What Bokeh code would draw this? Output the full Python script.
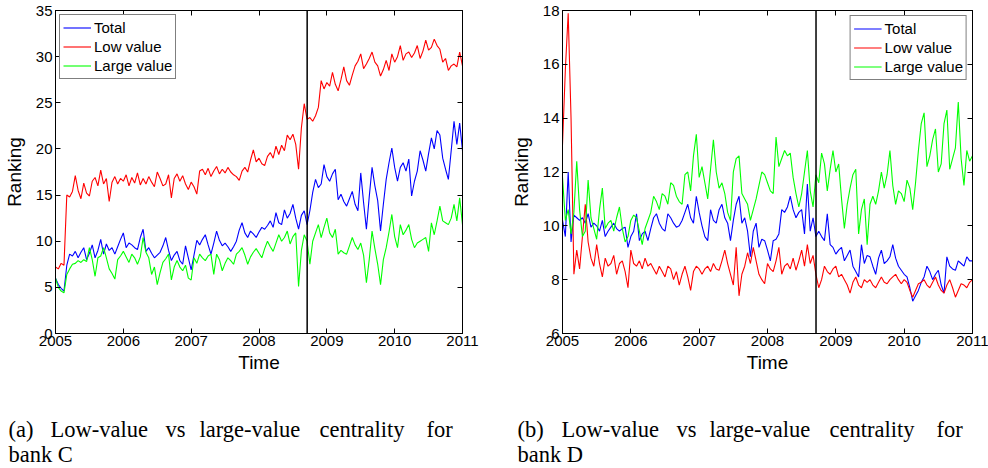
import numpy as np
from bokeh.plotting import figure
from bokeh.models import (Range1d, LinearAxis, FixedTicker, PrintfTickFormatter, Span,
                          Legend, LegendItem, ColumnDataSource)
from bokeh.layouts import column, row
from bokeh.embed import file_html
from bokeh.resources import INLINE
from bokeh.core.properties import value

# ---------------- data ----------------
# semi-monthly sample dates, Jan 2005 .. Jan 2011
dates = np.linspace(2005.0, 2011.0, 145)
year_ticks = [2005, 2006, 2007, 2008, 2009, 2010, 2011]
lehman_date = 2008.71
series_names = ["Total", "Low value", "Large value"]
series_colors = ["#0000ff", "#ff0000", "#00ff00"]

# bank C
c_yticks = [0, 5, 10, 15, 20, 25, 30, 35]
c_total = [6.0, 5.3, 4.9, 4.6, 7.4, 8.6, 8.4, 8.9, 8.2, 8.8, 9.3, 8.0,
           8.7, 9.6, 8.2, 9.0, 10.2, 8.6, 9.7, 9.0, 9.3, 8.6, 9.4, 10.2,
           10.9, 9.3, 9.8, 9.6, 9.3, 9.1, 10.4, 11.3, 8.9, 9.3, 8.7, 8.2,
           8.5, 8.8, 9.5, 10.4, 9.0, 7.9, 8.5, 8.9, 7.9, 7.5, 9.5, 8.2,
           6.9, 8.5, 10.1, 9.6, 10.2, 10.7, 9.6, 8.6, 9.8, 11.1, 10.1, 9.5,
           9.8, 9.4, 8.9, 9.4, 10.0, 11.2, 12.0, 10.9, 10.4, 11.1, 10.8, 10.4,
           11.0, 11.5, 11.3, 11.7, 12.2, 11.5, 13.1, 12.0, 11.8, 13.4, 12.5, 13.0,
           14.0, 12.5, 11.3, 12.8, 13.3, 11.8, 13.3, 15.3, 16.7, 15.8, 16.2, 18.3,
           17.0, 16.5, 17.3, 17.8, 14.5, 15.1, 14.3, 13.8, 14.6, 15.4, 14.0, 13.3,
           17.4, 14.2, 11.3, 14.8, 18.0, 16.0, 14.4, 11.1, 14.0, 16.7, 18.5, 20.1,
           18.0, 16.5, 18.0, 18.5, 17.6, 18.9, 14.9, 16.5, 17.6, 19.8, 18.8, 17.6,
           19.5, 21.2, 20.0, 22.0, 21.5, 19.0, 17.8, 16.7, 19.8, 23.0, 20.5, 22.8,
           19.8]
c_low = [7.2, 7.0, 7.6, 7.4, 15.0, 14.8, 15.4, 17.1, 15.5, 14.6, 16.3, 15.2,
         14.9, 16.5, 16.9, 16.0, 17.7, 16.2, 16.8, 14.3, 16.4, 17.0, 16.2, 16.8,
         16.5, 17.2, 16.0, 16.9, 16.3, 17.4, 16.1, 16.8, 16.2, 17.0, 16.4, 15.9,
         17.5, 16.8, 16.0, 16.2, 17.2, 14.7, 16.8, 17.3, 16.5, 17.1, 16.2, 15.6,
         16.4, 15.9, 15.1, 17.6, 17.8, 17.2, 17.9, 17.0, 17.6, 18.1, 17.3, 17.8,
         17.4, 18.0, 17.5, 17.2, 17.0, 16.6, 17.6, 18.0, 17.5, 18.8, 19.9, 18.6,
         19.0, 18.4, 18.2, 19.2, 19.6, 19.0, 20.3, 19.4, 20.4, 19.8, 21.5, 21.0,
         21.6, 20.5, 17.8, 22.3, 24.9, 23.2, 23.4, 23.0, 23.6, 24.5, 27.4, 26.5,
         27.2, 26.8, 28.3, 27.0, 26.3, 27.5, 28.9, 27.4, 26.9, 28.0, 29.0, 29.5,
         30.3, 28.7, 29.2, 29.8, 30.5, 29.4, 29.0, 27.9, 28.6, 29.6, 28.5, 30.3,
         29.4, 30.0, 31.2, 29.6, 30.3, 30.5, 29.9, 30.4, 31.2, 29.8, 30.6, 31.8,
         30.7, 31.0, 31.9, 31.2, 30.8, 29.4, 29.8, 28.5, 29.0, 29.2, 28.9, 30.5,
         29.0]
c_large = [6.0, 5.0, 4.6, 4.4, 6.4, 7.0, 7.5, 7.6, 7.9, 7.7, 8.0, 7.8,
           9.3, 8.0, 6.2, 8.2, 8.4, 9.3, 8.2, 7.0, 6.5, 5.9, 8.0, 8.4,
           8.9, 8.3, 7.7, 8.6, 8.2, 7.5, 8.3, 10.4, 8.8, 8.2, 6.4, 7.2,
           5.3, 6.6, 7.7, 8.1, 8.6, 5.8, 7.2, 7.9, 7.2, 6.8, 7.4, 6.0,
           5.8, 8.2, 7.6, 8.6, 8.2, 7.9, 8.4, 8.6, 6.4, 8.6, 8.0, 6.8,
           7.6, 8.2, 7.9, 7.5, 8.6, 8.9, 9.3, 8.5, 7.5, 8.3, 8.8, 9.2,
           8.7, 8.2, 9.2, 10.0, 9.4, 8.9, 9.8, 10.7, 10.0, 10.4, 11.1, 9.7,
           10.5, 10.9, 5.1, 9.0, 10.7, 10.0, 7.5, 10.0, 10.9, 11.8, 10.4, 11.5,
           12.5, 10.9, 10.4, 11.3, 8.6, 9.0, 8.75, 8.6, 9.5, 10.4, 9.6, 9.1,
           9.8, 8.5, 5.5, 8.0, 11.1, 9.2, 7.5, 5.3, 8.0, 9.3, 11.0, 12.9,
           10.5, 9.3, 11.8, 10.7, 11.2, 11.8, 10.2, 9.3, 9.8, 10.0, 10.2, 10.4,
           8.9, 12.0, 10.7, 12.2, 13.8, 12.2, 12.0, 11.8, 12.5, 14.0, 12.2, 14.7,
           11.8]

# bank D
d_yticks = [6, 8, 10, 12, 14, 16, 18]
d_total = [10.2, 9.6, 12.0, 9.4, 10.4, 10.3, 10.2, 10.3, 10.1, 10.45, 9.95, 10.1,
           10.0, 9.8, 10.2, 9.6, 9.8, 9.95, 10.1, 9.9, 9.8, 9.9, 9.95, 9.2,
           9.6, 9.8, 10.45, 9.45, 9.7, 9.8, 9.45, 9.9, 10.3, 10.45, 10.1, 9.9,
           9.8, 10.45, 10.3, 10.1, 9.95, 10.0, 10.2, 10.5, 10.8, 10.3, 10.1, 11.1,
           10.5, 10.0, 9.6, 9.45, 10.6, 10.2, 10.1, 10.6, 10.8, 10.3, 10.1, 9.45,
           10.2, 10.8, 11.1, 10.1, 10.3, 9.8, 8.85, 9.8, 10.1, 9.2, 9.5, 9.45,
           9.1, 8.7, 9.45, 9.5, 9.7, 10.6, 10.5, 10.7, 11.1, 10.6, 10.3, 10.5,
           10.6, 9.7, 11.55, 9.8, 10.3, 9.6, 9.8, 9.6, 9.45, 10.45, 9.3, 9.2,
           8.95, 9.1, 9.2, 8.7, 8.9, 9.1, 8.5, 8.3, 8.1, 9.3, 8.6, 8.9,
           8.85, 8.5, 8.2, 8.8, 9.1, 8.6, 8.7, 8.85, 9.3, 8.8, 8.5, 8.35,
           8.2, 8.1, 7.7, 7.2, 7.4, 7.6, 7.9, 8.1, 8.5, 8.3, 8.0, 8.2,
           8.35, 7.8, 7.5, 8.85, 8.5, 8.4, 8.35, 8.7, 8.6, 8.5, 8.85, 8.7,
           8.7]
d_low = [13.0, 15.8, 17.9, 14.0, 8.2, 9.1, 8.4, 9.6, 10.8, 9.4, 8.8, 8.5,
         9.3, 8.6, 8.1, 8.8, 8.5, 8.6, 8.9, 8.2, 8.6, 8.7, 8.3, 7.7,
         9.1, 8.6, 8.5, 8.7, 8.4, 8.8, 8.5, 8.6, 8.4, 8.2, 8.5, 8.3,
         8.1, 8.5, 8.4, 8.0, 8.3, 7.8, 8.2, 8.5, 8.1, 7.6, 8.3, 8.5,
         8.4, 8.2, 8.4, 8.5, 8.3, 8.6, 8.4, 8.35, 8.7, 9.1, 8.6, 8.2,
         7.8, 9.2, 7.4, 8.2, 8.5, 9.0, 8.6, 9.2, 8.7, 8.2, 8.0, 7.85,
         8.6, 8.4, 8.3, 8.7, 9.2, 8.2, 8.5, 8.6, 8.4, 8.8, 8.35, 8.7,
         9.1, 8.5, 9.3, 8.6, 8.9, 8.2, 7.7, 8.0, 8.5, 8.3, 8.2, 8.4,
         8.5, 8.1, 8.2, 8.0, 7.8, 7.5, 7.9, 8.1, 7.8, 7.7, 8.0, 7.9,
         8.0, 7.8, 7.7, 7.9, 8.1, 7.9, 7.85, 8.0, 8.1, 8.2, 8.0, 7.85,
         8.0, 7.9, 7.6, 7.35, 7.6, 7.85, 7.9, 8.0, 7.8, 7.7, 7.9, 8.1,
         7.8, 7.6, 7.5, 7.8, 8.0, 7.7, 7.35, 7.6, 7.85, 7.8, 7.7, 7.9,
         8.0]
d_large = [11.8, 10.2, 10.6, 9.7, 10.5, 12.4, 10.6, 9.6, 9.8, 11.7, 10.3, 9.9,
           9.5, 10.6, 11.4, 9.9, 10.1, 10.2, 9.8, 10.3, 10.7, 9.9, 9.4, 9.6,
           10.2, 10.4, 10.3, 9.8, 9.3, 9.9, 10.2, 10.5, 11.1, 10.9, 10.6, 11.2,
           11.1, 10.8, 11.6, 11.5, 11.1, 10.9, 10.8, 11.9, 12.0, 11.3, 12.6, 13.4,
           11.8, 12.2, 11.6, 11.0, 12.1, 13.2, 12.0, 11.4, 11.6, 11.2, 10.5, 10.2,
           12.0, 12.5, 12.6, 11.2, 11.0, 10.8, 10.2, 10.6, 11.0, 11.5, 12.0, 11.9,
           11.6, 11.3, 11.2, 13.3, 12.2, 12.5, 12.8, 12.6, 12.7, 11.8, 11.2, 10.7,
           11.2, 12.0, 12.8, 11.3, 10.7, 11.9, 11.6, 12.7, 12.3, 11.3, 12.1, 12.8,
           12.0, 12.3, 11.0, 9.9, 10.8, 11.4, 11.9, 12.1, 9.7, 10.6, 11.0, 9.3,
           10.8, 11.1, 10.8, 11.3, 12.0, 11.4, 11.9, 12.8, 11.5, 10.8, 11.3, 11.2,
           10.9, 11.7, 11.4, 10.6, 11.6, 12.8, 13.8, 14.2, 12.2, 12.6, 13.2, 13.6,
           12.0, 12.3, 13.8, 14.3, 12.1, 12.5, 12.9, 14.6, 12.5, 11.5, 12.8, 12.4,
           12.6]

caption_a = ["(a)", "Low-value", "vs", "large-value", "centrality", "for", "bank C"]
caption_b = ["(b)", "Low-value", "vs", "large-value", "centrality", "for", "bank D"]

# ---------------- styling / layout ----------------
FONT = "Liberation Sans"


def make_axis(ticks, show, label=None, standoff=2, label_standoff=0):
    ax = LinearAxis(ticker=FixedTicker(ticks=ticks), formatter=PrintfTickFormatter(format="%d"))
    ax.major_tick_in = 5
    ax.major_tick_out = 0
    ax.minor_tick_in = 0
    ax.minor_tick_out = 0
    ax.axis_line_color = "black"
    ax.major_tick_line_color = "black"
    if show:
        ax.major_label_text_font = FONT
        ax.major_label_text_font_size = "15px"
        ax.major_label_text_color = "black"
        ax.major_label_standoff = standoff
        if label:
            ax.axis_label = label
            ax.axis_label_text_font = FONT
            ax.axis_label_text_font_size = "19px"
            ax.axis_label_text_font_style = "normal"
            ax.axis_label_text_color = "black"
            ax.axis_label_standoff = label_standoff
    else:
        ax.major_label_text_font_size = "0px"
        ax.major_label_text_alpha = 0
        ax.major_label_standoff = 0
    return ax


def make_panel(width, min_left, min_right, y_lo, y_hi, yticks, total, low, large,
               legend_loc, legend_margin):
    p = figure(width=width, height=378, x_range=Range1d(2005, 2011), y_range=Range1d(y_lo, y_hi),
               output_backend="svg", toolbar_location=None, title=None,
               x_axis_location=None, y_axis_location=None,
               min_border_left=min_left, min_border_right=min_right,
               min_border_top=10, min_border_bottom=45)
    p.grid.visible = False
    p.outline_line_color = "black"
    p.outline_line_width = 1
    p.add_layout(make_axis(year_ticks, True, "Time", standoff=2, label_standoff=3), "below")
    p.add_layout(make_axis(year_ticks, False), "above")
    p.add_layout(make_axis(yticks, True, "Ranking", standoff=3, label_standoff=8), "left")
    p.add_layout(make_axis(yticks, False), "right")

    src = ColumnDataSource(dict(t=dates, total=total, low=low, large=large))
    rends = []
    for col, color in zip(["total", "low", "large"], series_colors):
        rends.append(p.line("t", col, source=src, line_color=color, line_width=1.1))
    p.add_layout(Span(location=lehman_date, dimension="height", line_color="black", line_width=1.5))

    legend = Legend(items=[LegendItem(label=n, renderers=[r]) for n, r in zip(series_names, rends)],
                    location=legend_loc)
    legend.margin = legend_margin
    legend.padding = 3
    legend.spacing = 0
    legend.glyph_width = 28
    legend.glyph_height = 19
    legend.label_height = 19
    legend.label_standoff = 3
    legend.label_text_font = FONT
    legend.label_text_font_size = "15px"
    legend.label_text_color = "black"
    legend.border_line_color = "black"
    legend.border_line_width = 1
    legend.background_fill_color = "white"
    legend.background_fill_alpha = 1
    p.add_layout(legend)
    return p


p1 = make_panel(494, 53, 32, 0, 35, c_yticks, c_total, c_low, c_large, "top_left", 4)
p2 = make_panel(494, 68, 16, 6, 18, d_yticks, d_total, d_low, d_large, "top_right", 5)

# caption strip (coordinates are pixels from top-left of the strip)
cap = figure(width=988, height=90, x_range=Range1d(0, 988), y_range=Range1d(90, 0),
             output_backend="svg", toolbar_location=None, title=None,
             x_axis_location=None, y_axis_location=None, min_border=0,
             outline_line_color=None)
cap.grid.visible = False
word_x_a = [8, 50, 165, 199, 319, 426, 8]
word_x_b = [517, 561, 676, 709, 829, 936, 517]
word_y = [51, 51, 51, 51, 51, 51, 76]
cap.text(x=word_x_a + word_x_b, y=word_y + word_y, text=caption_a + caption_b,
         text_font=value("Liberation Serif"), text_font_size="22.5px",
         text_baseline="alphabetic", text_align="left", text_color="black")

layout = column(row(p1, p2), cap)
open("out.html", "w").write(file_html(layout, INLINE))
